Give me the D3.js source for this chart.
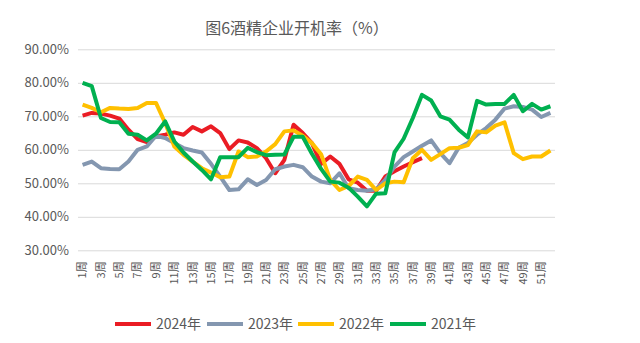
<!DOCTYPE html>
<html>
<head>
<meta charset="utf-8">
<script src="https://cdn.jsdelivr.net/npm/d3@7/dist/d3.min.js"></script>
<style>
  html, body { margin: 0; padding: 0; background: #fff; }
  svg { display: block; font-family: "Noto Sans CJK SC", "Noto Sans", sans-serif; }
</style>
</head>
<body>
<svg id="chart" width="640" height="343"></svg>
<script>
// Weekly operating rate of alcohol producers, by year (%)
const weeks = d3.range(1, 53);
const weekLabels = weeks.map(w => w + "周");
const tickWeeks = weeks.filter(w => w % 2 === 1);
const yTicks = [30, 40, 50, 60, 70, 80, 90];

const seriesNames = ["2024年", "2023年", "2022年", "2021年"];
const seriesColors = ["#EA1C24", "#8497B0", "#FFC000", "#00B050"];

const rate2024 = [70.2, 71.0, 70.8, 70.2, 69.3, 66.0, 63.2, 62.3, 64.0, 64.5,
  65.2, 64.5, 66.8, 65.5, 67.0, 65.0, 60.2, 62.8, 62.2, 60.5,
  57.5, 53.0, 57.0, 67.5, 65.0, 62.0, 55.8, 58.0, 55.8, 51.2,
  50.2, 47.8, 47.8, 52.0, 53.6, 55.0, 56.3, 57.5];

const rate2023 = [55.5, 56.5, 54.5, 54.3, 54.2, 56.5, 60.0, 61.0, 64.2, 63.5,
  62.0, 60.5, 59.8, 59.2, 55.8, 52.0, 48.0, 48.2, 51.2, 49.5,
  51.0, 54.2, 55.0, 55.5, 54.8, 52.0, 50.5, 50.0, 53.0, 48.5,
  48.0, 47.8, 48.2, 51.0, 55.0, 57.8, 59.5, 61.2, 62.8, 59.0,
  56.0, 60.6, 62.0, 64.5, 66.5, 69.0, 72.3, 73.0, 72.8, 72.0,
  69.8, 71.0];

const rate2022 = [73.5, 72.5, 71.2, 72.5, 72.3, 72.2, 72.5, 74.0, 74.0, 68.0,
  61.0, 58.5, 56.5, 54.5, 53.2, 51.8, 52.0, 59.5, 57.8, 58.0,
  59.5, 61.7, 65.5, 65.8, 64.2, 62.0, 58.7, 51.0, 48.0, 49.2,
  52.0, 51.0, 48.0, 50.0, 50.5, 50.3, 57.5, 60.0, 57.0, 58.7,
  60.5, 60.6, 61.4, 65.5, 65.2, 67.2, 68.2, 59.0, 57.2, 58.0,
  58.0, 59.8];

const rate2021 = [80.0, 79.0, 69.5, 68.3, 68.2, 64.8, 64.5, 62.8, 64.8, 68.5,
  62.5, 59.2, 56.5, 54.0, 51.2, 57.8, 57.8, 57.8, 60.6, 59.3,
  58.4, 58.5, 58.6, 63.9, 63.9, 58.8, 54.3, 50.5, 50.2, 48.7,
  46.0, 43.1, 46.9, 47.0, 59.2, 63.3, 69.5, 76.4, 74.7, 70.0,
  69.0, 66.0, 63.7, 74.6, 73.5, 73.7, 73.7, 76.4, 71.5, 73.7,
  72.0, 73.0];

const seriesValues = [rate2024, rate2023, rate2022, rate2021];

const svg = d3.select("#chart");
const textColor = "#595959";
const gridColor = "#D9D9D9";

const plot = { left: 78, right: 555, top: 49.3, bottom: 250.3 };

const x = d3.scaleBand().domain(weeks).range([plot.left, plot.right]).padding(0);
const xc = w => x(w) + x.bandwidth() / 2;
const y = d3.scaleLinear().domain([30, 90]).range([plot.bottom, plot.top]);

// Title
svg.append("text")
  .attr("x", 297).attr("y", 30)
  .attr("text-anchor", "middle").attr("dominant-baseline", "middle")
  .attr("font-size", 16).attr("fill", textColor)
  .text("图6酒精企业开机率（%）");

// Horizontal gridlines and value labels
const yAxis = d3.axisLeft(y)
  .tickValues(yTicks)
  .tickSize(-(plot.right - plot.left))
  .tickPadding(9)
  .tickFormat(d => d3.format(".2f")(d) + "%");

const yg = svg.append("g")
  .attr("transform", `translate(${plot.left},0)`)
  .call(yAxis);
yg.select(".domain").remove();
yg.selectAll(".tick line").attr("stroke", gridColor).attr("stroke-width", 1);
yg.selectAll(".tick text")
  .attr("fill", textColor).attr("font-size", 13)
  .attr("font-family", '"Noto Sans CJK SC", sans-serif');

// Week labels, written vertically
const xAxis = d3.axisBottom(x)
  .tickValues(tickWeeks)
  .tickSize(0)
  .tickFormat(w => weekLabels[w - 1]);

const xg = svg.append("g")
  .attr("transform", `translate(0,${plot.bottom})`)
  .call(xAxis);
xg.select(".domain").remove();
xg.selectAll(".tick text")
  .attr("fill", textColor).attr("font-size", 11)
  .attr("font-family", '"Noto Sans CJK SC", sans-serif')
  .attr("text-anchor", "end")
  .attr("transform", "rotate(-90)")
  .attr("x", -11).attr("y", 0).attr("dy", "0.35em");

// Lines
const line = d3.line()
  .x((d, i) => xc(weeks[i]))
  .y(d => y(d));

seriesValues.forEach((vals, k) => {
  svg.append("path")
    .datum(vals)
    .attr("fill", "none")
    .attr("stroke", seriesColors[k])
    .attr("stroke-width", 4)
    .attr("stroke-linejoin", "round")
    .attr("d", line);
});

// Legend
const legendX = [115, 207, 298, 390];
const legend = svg.append("g");
seriesNames.forEach((name, k) => {
  const g = legend.append("g").attr("transform", `translate(${legendX[k]},324)`);
  g.append("line")
    .attr("x1", 0).attr("x2", 36).attr("y1", 0).attr("y2", 0)
    .attr("stroke", seriesColors[k]).attr("stroke-width", 4);
  g.append("text")
    .attr("x", 41).attr("y", 0).attr("dy", "0.35em")
    .attr("font-size", 14).attr("fill", textColor)
    .text(name);
});
</script>
</body>
</html>
